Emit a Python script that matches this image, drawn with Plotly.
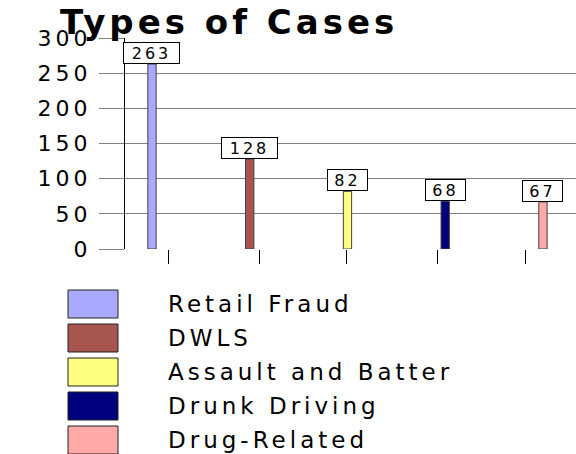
import plotly.graph_objects as go

# ---- data ----
categories = ["Retail Fraud", "DWLS", "Assault and Batter", "Drunk Driving", "Drug-Related"]
case_counts = [263, 128, 82, 68, 67]
bar_colors = ["#A9A9FF", "#A8554F", "#FFFF7F", "#00007F", "#FFA9A9"]
y_tick_values = [0, 50, 100, 150, 200, 250, 300]
title_text = "Types of Cases"

# ---- layout constants (pixels) ----
W, H = 576, 454
ML, MR, MT, MB = 125, 0, 38, 205
PW = W - ML - MR
PH = H - MT - MB

def px_x(px):
    return (px - ML) / PW

def px_y(py):
    return (H - MB - py) / PH

def wide(text, ls):
    return '<span style="letter-spacing:%spx">%s</span>' % (ls, text)

FONT = "DejaVu Sans"
x_index = list(range(len(categories)))
x_tick_positions = [0.174, 1.095, 1.995, 2.916, 3.826]

fig = go.Figure()
fig.add_trace(go.Bar(
    x=x_index,
    y=case_counts,
    width=0.085,
    marker=dict(color=bar_colors, line=dict(color="#404040", width=1)),
    showlegend=False,
    hoverinfo="skip",
))

annotations = []
for i, v in enumerate(case_counts):
    n = len(str(v))
    annotations.append(dict(
        x=i, y=v, xref="x", yref="y",
        text=wide(str(v), 3), showarrow=False,
        xanchor="center", yanchor="bottom",
        font=dict(family=FONT, size=16, color="black"),
        bgcolor="white", bordercolor="black", borderwidth=1, borderpad=2,
        width=16 * n + 3, height=16,
    ))

# custom legend
shapes = []
for i, (name, col) in enumerate(zip(categories, bar_colors)):
    top = 290 + 34 * i
    bot = top + 28
    shapes.append(dict(
        type="rect", xref="paper", yref="paper",
        x0=px_x(68), x1=px_x(118), y0=px_y(bot), y1=px_y(top),
        fillcolor=col, line=dict(color="#222222", width=1),
    ))
    annotations.append(dict(
        x=px_x(166), y=px_y(top + 14), xref="paper", yref="paper",
        text=wide(name, 4), showarrow=False, xanchor="left", yanchor="middle",
        font=dict(family=FONT, size=23, color="black"),
    ))

# title as annotation (left aligned)
annotations.append(dict(
    x=px_x(58), y=px_y(29), xref="paper", yref="paper",
    text="<b>" + wide(title_text, 4) + "</b>", showarrow=False,
    xanchor="left", yanchor="bottom", yshift=-15,
    font=dict(family=FONT, size=34, color="black"),
))

fig.update_layout(
    width=W, height=H,
    margin=dict(l=ML, r=MR, t=MT, b=MB, pad=0),
    paper_bgcolor="white", plot_bgcolor="white",
    xaxis=dict(
        range=[-0.276, 4.338],
        showgrid=False, zeroline=False, showline=False,
        tickmode="array", tickvals=x_tick_positions,
        ticktext=[""] * len(x_tick_positions),
        ticks="outside", ticklen=14, tickcolor="black", tickwidth=1,
        showticklabels=True, fixedrange=True,
    ),
    yaxis=dict(
        range=[0, 300],
        tickmode="array", tickvals=y_tick_values,
        ticktext=[wide(str(t), 4) for t in y_tick_values],
        ticks="outside", ticklen=25, tickcolor="#808080", tickwidth=1,
        showgrid=True, gridcolor="#808080", gridwidth=1,
        zeroline=False,
        showline=True, linecolor="black", linewidth=1,
        tickfont=dict(family=FONT, size=22, color="black"),
        ticklabelstandoff=3,
        fixedrange=True,
    ),
    shapes=shapes,
    annotations=annotations,
    showlegend=False,
)

fig.write_html(
    "out.html",
    config={"displayModeBar": False},
    post_script="document.body.style.margin='0px';",
)
